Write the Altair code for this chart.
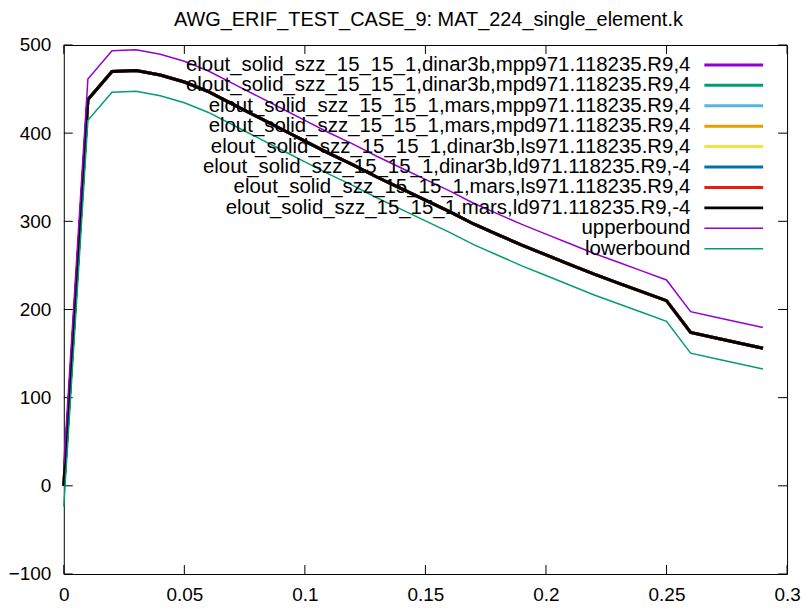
import altair as alt
import pandas as pd

# ---------------- data ----------------
x_vals = [0.00, 0.01, 0.02, 0.03, 0.04, 0.05, 0.06, 0.07, 0.08, 0.09,
          0.10, 0.11, 0.12, 0.13, 0.14, 0.15, 0.16, 0.17, 0.18, 0.19,
          0.20, 0.21, 0.22, 0.23, 0.24, 0.25, 0.26, 0.27, 0.28, 0.29]

elout_values = [0, 438, 470, 471, 466, 458, 447, 433, 419, 405,
                391, 377, 364, 350, 337, 324, 311, 297, 285, 273,
                262, 251, 240, 230, 220, 210, 174, 168, 162, 156]

upper_values = [23.5, 461.5, 493.5, 494.5, 489.5, 481.5, 470.5, 456.5, 442.5, 428.5,
                414.5, 400.5, 387.5, 373.5, 360.5, 347.5, 334.5, 320.5, 308.5, 296.5,
                285.5, 274.5, 263.5, 253.5, 243.5, 233.5, 197.5, 191.5, 185.5, 179.5]

lower_values = [-23.5, 414.5, 446.5, 447.5, 442.5, 434.5, 423.5, 409.5, 395.5, 381.5,
                367.5, 353.5, 340.5, 326.5, 313.5, 300.5, 287.5, 273.5, 261.5, 249.5,
                238.5, 227.5, 216.5, 206.5, 196.5, 186.5, 150.5, 144.5, 138.5, 132.5]

series_names = [
    "elout_solid_szz_15_15_1,dinar3b,mpp971.118235.R9,4",
    "elout_solid_szz_15_15_1,dinar3b,mpd971.118235.R9,4",
    "elout_solid_szz_15_15_1,mars,mpp971.118235.R9,4",
    "elout_solid_szz_15_15_1,mars,mpd971.118235.R9,4",
    "elout_solid_szz_15_15_1,dinar3b,ls971.118235.R9,4",
    "elout_solid_szz_15_15_1,dinar3b,ld971.118235.R9,-4",
    "elout_solid_szz_15_15_1,mars,ls971.118235.R9,4",
    "elout_solid_szz_15_15_1,mars,ld971.118235.R9,-4",
    "upperbound",
    "lowerbound",
]
series_colors = ["#9400d3", "#009e73", "#56b4e9", "#e69f00", "#f0e442",
                 "#0072b2", "#e51e10", "#000000", "#9400d3", "#009e73"]
series_widths = [3, 3, 3, 3, 3, 3, 3, 3, 1.5, 1.5]

x_ticks = [0, 0.05, 0.1, 0.15, 0.2, 0.25, 0.3]
y_ticks = [-100, 0, 100, 200, 300, 400, 500]

title_text = "AWG_ERIF_TEST_CASE_9: MAT_224_single_element.k"

# ---------------- layout ----------------
W, H = 726, 531
FONT = "Liberation Sans"
FS = 19
LEG_FS = 20.5

xs = alt.Scale(domain=[0, 0.3], nice=False, zero=False)
ys = alt.Scale(domain=[-100, 500], nice=False, zero=False)

series_vals = [elout_values] * 8 + [upper_values, lower_values]

layers = []
# tick marks (inward, mirrored on all four sides)
ydf = pd.DataFrame({"v": y_ticks})
xdf = pd.DataFrame({"v": x_ticks})
tick_len = 9
layers.append(alt.Chart(ydf).mark_rule(color="black", strokeWidth=1).encode(
    y=alt.Y("v:Q", scale=ys, axis=alt.Axis(values=y_ticks, title=None, format="d")),
    x=alt.value(0), x2=alt.value(tick_len)))
layers.append(alt.Chart(ydf).mark_rule(color="black", strokeWidth=1).encode(
    y=alt.Y("v:Q", scale=ys), x=alt.value(W - tick_len), x2=alt.value(W)))
layers.append(alt.Chart(xdf).mark_rule(color="black", strokeWidth=1).encode(
    x=alt.X("v:Q", scale=xs, axis=alt.Axis(values=x_ticks, title=None, format="~g",
                                          labelFlush=False)),
    y=alt.value(H), y2=alt.value(H - tick_len)))
layers.append(alt.Chart(xdf).mark_rule(color="black", strokeWidth=1).encode(
    x=alt.X("v:Q", scale=xs), y=alt.value(0), y2=alt.value(tick_len)))

# data lines
for name, vals, col, w in zip(series_names, series_vals, series_colors, series_widths):
    df = pd.DataFrame({"x": x_vals, "y": vals})
    layers.append(alt.Chart(df).mark_line(color=col, strokeWidth=w, strokeJoin="miter").encode(
        x=alt.X("x:Q", scale=xs),
        y=alt.Y("y:Q", scale=ys),
    ))

# legend (inside, top right, labels left of samples)
leg_y0, leg_dy = 20, 20.5
leg = pd.DataFrame({
    "name": series_names,
    "py": [leg_y0 + leg_dy * i for i in range(len(series_names))],
    "col": series_colors,
    "w": series_widths,
})
layers.append(alt.Chart(leg).mark_text(align="right", baseline="middle", font=FONT,
                                       fontSize=LEG_FS, color="black").encode(
    x=alt.value(629), y=alt.Y("py:Q", scale=None), text="name:N"))
layers.append(alt.Chart(leg).mark_rule().encode(
    x=alt.value(643), x2=alt.value(702),
    y=alt.Y("py:Q", scale=None),
    color=alt.Color("col:N", scale=None),
    strokeWidth=alt.StrokeWidth("w:Q", scale=None)))

# chart title as a text mark above the plot area
tdf = pd.DataFrame({"t": [title_text]})
layers.append(alt.Chart(tdf).mark_text(align="center", baseline="middle", font=FONT,
                                       fontSize=20, color="black").encode(
    x=alt.value(W / 2 + 3), y=alt.value(-25), text="t:N"))

chart = alt.layer(*layers).properties(
    width=W, height=H,
    autosize=alt.AutoSizeParams(type="none"),
    padding={"left": 56, "top": 36, "right": 14, "bottom": 30},
).configure_view(stroke="black", strokeWidth=1).configure_axis(
    domain=False, ticks=False, grid=False, labelFont=FONT, labelFontSize=FS,
    labelColor="black", labelPadding=13,
).configure_axisX(labelPadding=12)

chart.save("out.html", embed_options={"renderer": "svg", "actions": False})
